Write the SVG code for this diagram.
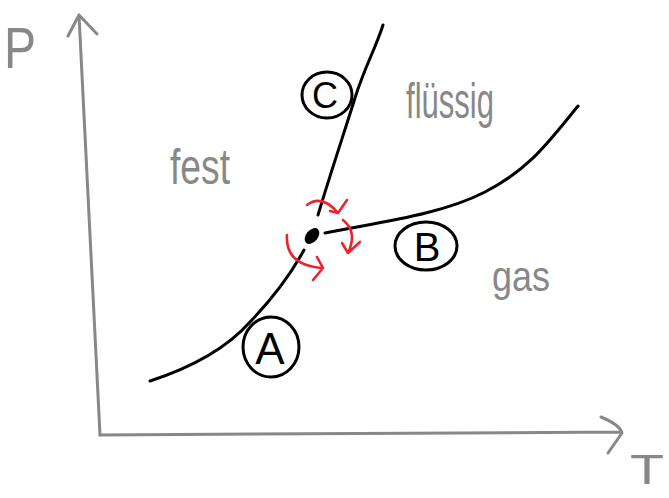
<svg xmlns="http://www.w3.org/2000/svg" width="669" height="498" viewBox="0 0 669 498">
<style>
.ax{fill:none;stroke:#888;stroke-width:3;stroke-linecap:round;stroke-linejoin:round}
.ln{fill:none;stroke:#000;stroke-width:3;stroke-linecap:round;stroke-linejoin:round}
.rd{fill:none;stroke:#e8242c;stroke-width:2.6;stroke-linecap:round;stroke-linejoin:round}
.lbl{font-family:"Liberation Sans",Arial,sans-serif;fill:#888}
.let{font-family:"Liberation Sans",Arial,sans-serif;fill:#000;text-anchor:middle}
</style>
<rect width="669" height="498" fill="#fff"/>
<g id="axes">
<path class="ax" d="M100,435 L79,15 M68,36 L79,15 L97,34"/>
<path class="ax" d="M100,435 L620,432 M601,417 Q620,425 622,433 Q615,443 608,453"/>
</g>
<g id="label-P"><text class="lbl" x="4" y="68" font-size="58" textLength="32" lengthAdjust="spacingAndGlyphs">P</text></g>
<g id="label-T"><text class="lbl" x="630" y="484" font-size="42" textLength="34" lengthAdjust="spacingAndGlyphs">T</text></g>
<g id="connectors">
<path class="ln" d="M150,381 C190,368 225,350 250,322 C275,296 292,272 304,250"/>
<path class="ln" d="M318,215 C330,175 345,130 355,98 S375,50 383,25"/>
<path class="ln" d="M325,233 C380,222 440,215 485,192 S550,140 578,106"/>
</g>
<g id="triple-point">
<ellipse cx="312" cy="236" rx="9" ry="6" transform="rotate(-50 312 236)" fill="#000"/>
</g>
<g id="arrows">
<path class="rd" d="M307,205 Q322,194 338,213 M330,211 L338,213 L347,200"/>
<path class="rd" d="M343,220 Q358,232 348,253 M342,243 L348,253 L360,242"/>
<path class="rd" d="M287,235 Q285,265 322,268 M317,257 L323,268 L313,280"/>
</g>
<g id="node-A">
<ellipse cx="271" cy="347" rx="28" ry="30" class="ln"/>
<text class="let" x="270" y="364" font-size="44">A</text>
</g>
<g id="node-B">
<ellipse cx="426" cy="246" rx="31" ry="24" class="ln"/>
<text class="let" x="427" y="261" font-size="40">B</text>
</g>
<g id="node-C">
<ellipse cx="327" cy="95" rx="25" ry="23" class="ln"/>
<text class="let" x="325" y="108" font-size="36">C</text>
</g>
<g id="label-fest"><text class="lbl" x="170" y="184" font-size="50" textLength="60" lengthAdjust="spacingAndGlyphs">fest</text></g>
<g id="label-fluessig"><text class="lbl" x="406" y="118" font-size="50" textLength="88" lengthAdjust="spacingAndGlyphs">flüssig</text></g>
<g id="label-gas"><text class="lbl" x="492" y="291" font-size="42" textLength="58" lengthAdjust="spacingAndGlyphs">gas</text></g>
</svg>
